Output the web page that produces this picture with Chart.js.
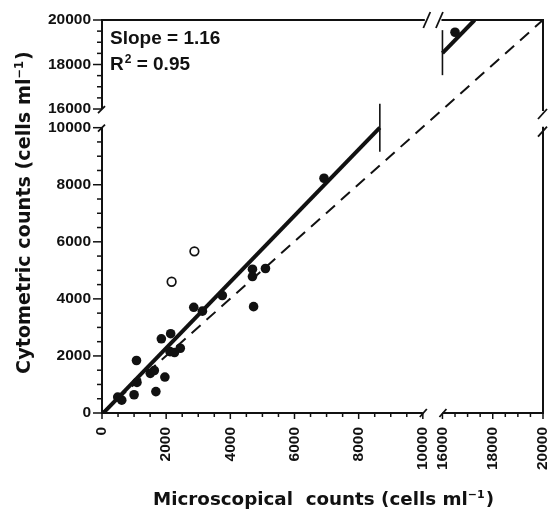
<!DOCTYPE html>
<html><head><meta charset="utf-8">
<script src="https://cdn.jsdelivr.net/npm/chart.js@4/dist/chart.umd.min.js"></script>
<style>html,body{margin:0;padding:0;background:#fff;overflow:hidden}#wrap{width:549px;height:510px;position:relative}</style>
</head><body><div id="wrap"><canvas id="c" width="549" height="510"></canvas></div>
<script>
// ---- data ----
const xTickLabels = [0, 2000, 4000, 6000, 8000, 10000, 16000, 18000, 20000];
const yTickLabels = [0, 2000, 4000, 6000, 8000, 10000, 16000, 18000, 20000];
const filledX = [490, 615, 1000, 1075, 1090, 1505, 1630, 1680, 1850, 1960, 2140, 2120, 2260, 2440, 2860, 3130, 3750, 4690, 4690, 4725, 5095, 6920, 16500];
const filledY = [560, 450, 640, 1840, 1070, 1390, 1490, 750, 2600, 1260, 2780, 2150, 2120, 2270, 3705, 3570, 4118, 5040, 4783, 3728, 5064, 8228, 19450];
const openX = [2170, 2880];
const openY = [4600, 5665];
const fitLowX = [40, 8660];
const fitLowY = [0, 10000];
const fitHighX = [16000, 17280];
const fitHighY = [18510, 20000];
const oneToOneX = [0, 20000];
const oneToOneY = [0, 20000];
const slopeText = 'Slope = 1.16';
const r2Value = '0.95';

// ---- broken-axis layout (fractions of the axis length) ----
const BREAKS = {
  x: [{lo: 0, hi: 10000, f0: 0, f1: 0.7275}, {lo: 16000, hi: 20000, f0: 0.772, f1: 1}],
  y: [{lo: 0, hi: 10000, f0: 0, f1: 0.726}, {lo: 16000, hi: 20000, f0: 0.7735, f1: 1}]
};

class BrokenScale extends Chart.LinearScale {
  frac(v) {
    const s = BREAKS[this.id];
    if (v <= s[0].hi) return s[0].f0 + (v - s[0].lo) / (s[0].hi - s[0].lo) * (s[0].f1 - s[0].f0);
    if (v >= s[1].lo) return s[1].f0 + (v - s[1].lo) / (s[1].hi - s[1].lo) * (s[1].f1 - s[1].f0);
    return s[0].f1 + (v - s[0].hi) / (s[1].lo - s[0].hi) * (s[1].f0 - s[0].f1);
  }
  unfrac(f) {
    const s = BREAKS[this.id];
    if (f <= s[0].f1) return s[0].lo + (f - s[0].f0) / (s[0].f1 - s[0].f0) * (s[0].hi - s[0].lo);
    if (f >= s[1].f0) return s[1].lo + (f - s[1].f0) / (s[1].f1 - s[1].f0) * (s[1].hi - s[1].lo);
    return s[0].hi + (f - s[0].f1) / (s[1].f0 - s[0].f1) * (s[1].lo - s[0].hi);
  }
  getPixelForValue(v) { return this.getPixelForDecimal(this.frac(v)); }
  getValueForPixel(p) { return this.unfrac(this.getDecimalForPixel(p)); }
}
BrokenScale.id = 'broken';
BrokenScale.defaults = Chart.LinearScale.defaults;
Chart.register(BrokenScale);

const INK = '#111111';
const pts = (xs, ys) => xs.map((v, i) => ({x: v, y: ys[i]}));

const deco = {
  id: 'deco',
  afterDatasetsDraw(chart) {
    const {ctx, chartArea: a, scales: {x, y}} = chart;
    const xp = v => x.getPixelForValue(v), yp = v => y.getPixelForValue(v);
    const line = (x1, y1, x2, y2) => { ctx.beginPath(); ctx.moveTo(x1, y1); ctx.lineTo(x2, y2); ctx.stroke(); };
    ctx.save();
    ctx.strokeStyle = INK; ctx.lineCap = 'butt';
    // axes and frame
    ctx.lineWidth = 2;
    line(a.left, yp(0) + 1, a.left, yp(10000));
    line(a.left, yp(16000), a.left, a.top - 1);
    line(a.left - 1, a.bottom, xp(10000), a.bottom);
    line(xp(16000), a.bottom, a.right + 1, a.bottom);
    line(a.left - 1, a.top, xp(10000) + 2, a.top);
    line(xp(16000) - 1, a.top, a.right + 1, a.top);
    line(a.right, a.top - 1, a.right, yp(16000) + 2);
    line(a.right, yp(10000) - 1, a.right, a.bottom + 1);
    // break marks
    ctx.lineWidth = 1.8;
    line(a.left - 4, yp(16000) + 4, a.left + 3, yp(16000) - 3);
    line(a.left - 4, yp(10000) + 4, a.left + 3, yp(10000) - 3);
    line(xp(10000) - 3, a.bottom + 4, xp(10000) + 4, a.bottom - 4);
    line(xp(16000) - 3, a.bottom + 4, xp(16000) + 4, a.bottom - 4);
    const tx1 = xp(10000) + 4, tx2 = xp(16000) - 3;
    line(tx1 - 3.5, a.top + 8, tx1 + 3.5, a.top - 8);
    line(tx2 - 3.5, a.top + 8, tx2 + 3.5, a.top - 8);
    const ry1 = yp(16000) + 5, ry2 = yp(10000) + 4;
    line(a.right - 5, ry1 + 5, a.right + 4, ry1 - 5);
    line(a.right - 5, ry2 + 5, a.right + 4, ry2 - 5);
    // ticks
    ctx.lineWidth = 1.5;
    const segs = [[0, 10000], [16000, 20000]];
    segs.forEach(([lo, hi]) => {
      for (let v = lo; v <= hi; v += 500) {
        const major = v % 2000 === 0;
        const py = yp(v);
        line(a.left - (major ? 9 : 5), py, a.left, py);
        const px = xp(v);
        line(px, a.bottom, px, a.bottom + (major ? 6 : 4));
      }
    });
    // break markers on the fitted line
    ctx.lineWidth = 1.6;
    const ex = xp(fitLowX[1]), ey = yp(fitLowY[1]);
    line(ex, ey - 24, ex, ey + 24);
    const sx = xp(fitHighX[0]), sy = yp(fitHighY[0]);
    line(sx, sy - 23, sx, sy + 22);
    // annotation
    ctx.fillStyle = INK; ctx.textAlign = 'left'; ctx.textBaseline = 'alphabetic';
    ctx.font = 'bold 19px "Liberation Sans", Arial, sans-serif';
    ctx.fillText(slopeText, 110, 44);
    ctx.fillText('R', 110, 70);
    let w = ctx.measureText('R').width;
    ctx.font = 'bold 12px "Liberation Sans", Arial, sans-serif';
    ctx.fillText('2', 110 + w + 1, 63);
    let w2 = ctx.measureText('2').width;
    ctx.font = 'bold 19px "Liberation Sans", Arial, sans-serif';
    ctx.fillText(' = ' + r2Value, 110 + w + w2 + 1, 70);
    // axis titles
    const drawTitle = (main, sup, end, big, small, raise) => {
      ctx.font = `bold ${big}px "DejaVu Sans", sans-serif`;
      const w1 = ctx.measureText(main).width, w3 = ctx.measureText(end).width;
      ctx.font = `bold ${small}px "DejaVu Sans", sans-serif`;
      const ws = ctx.measureText(sup).width;
      const total = w1 + ws + w3 + 1;
      let cx = -total / 2;
      ctx.font = `bold ${big}px "DejaVu Sans", sans-serif`;
      ctx.fillText(main, cx, 0); cx += w1;
      ctx.font = `bold ${small}px "DejaVu Sans", sans-serif`;
      ctx.fillText(sup, cx, -raise); cx += ws + 1;
      ctx.font = `bold ${big}px "DejaVu Sans", sans-serif`;
      ctx.fillText(end, cx, 0);
    };
    ctx.save();
    ctx.translate((a.left + a.right) / 2 + 1, 505);
    drawTitle('Microscopical  counts (cells ml', '\u22121', ')', 18.3, 11, 7);
    ctx.restore();
    ctx.save();
    ctx.translate(30, 212.5);
    ctx.rotate(-Math.PI / 2);
    drawTitle('Cytometric counts (cells ml', '\u22121', ')', 19.2, 11.5, 7.5);
    ctx.restore();
    ctx.restore();
  }
};

const tickFont = {family: '"Liberation Sans", Arial, sans-serif', weight: 'bold', size: 15.5};

new Chart(document.getElementById('c'), {
  type: 'scatter',
  data: {
    datasets: [
      {data: pts(oneToOneX, oneToOneY), showLine: true, pointRadius: 0, borderColor: INK, borderWidth: 2, borderDash: [12, 8], fill: false},
      {data: pts(fitLowX, fitLowY), showLine: true, pointRadius: 0, borderColor: INK, borderWidth: 4, fill: false},
      {data: pts(fitHighX, fitHighY), showLine: true, pointRadius: 0, borderColor: INK, borderWidth: 4, fill: false},
      {data: pts(filledX, filledY), pointRadius: 4.8, pointBackgroundColor: INK, pointBorderColor: INK, pointBorderWidth: 0},
      {data: pts(openX, openY), pointRadius: 4.3, pointBackgroundColor: '#fff', pointBorderColor: INK, pointBorderWidth: 1.7}
    ]
  },
  options: {
    responsive: false, animation: false, events: [],
    layout: {padding: {top: 20, right: 4, bottom: 0, left: 0}},
    plugins: {legend: {display: false}, tooltip: {enabled: false}},
    scales: {
      x: {
        type: 'broken', position: 'bottom', min: 0, max: 20000,
        afterBuildTicks: s => { s.ticks = xTickLabels.map(v => ({value: v})); },
        afterFit: s => { s.height = 97; s.paddingLeft = 0; s.paddingRight = 0; },
        grid: {display: false, drawTicks: false}, border: {display: false},
        ticks: {autoSkip: false, minRotation: 90, maxRotation: 90, padding: 14, color: INK, font: tickFont, callback: v => String(v)}
      },
      y: {
        type: 'broken', position: 'left', min: 0, max: 20000,
        afterBuildTicks: s => { s.ticks = yTickLabels.map(v => ({value: v})); },
        afterFit: s => { s.width = 102; s.paddingTop = 0; s.paddingBottom = 0; },
        grid: {display: false, drawTicks: false}, border: {display: false},
        ticks: {autoSkip: false, padding: 11, color: INK, font: tickFont, callback: v => String(v)}
      }
    }
  },
  plugins: [deco]
});
</script>
</body></html>
